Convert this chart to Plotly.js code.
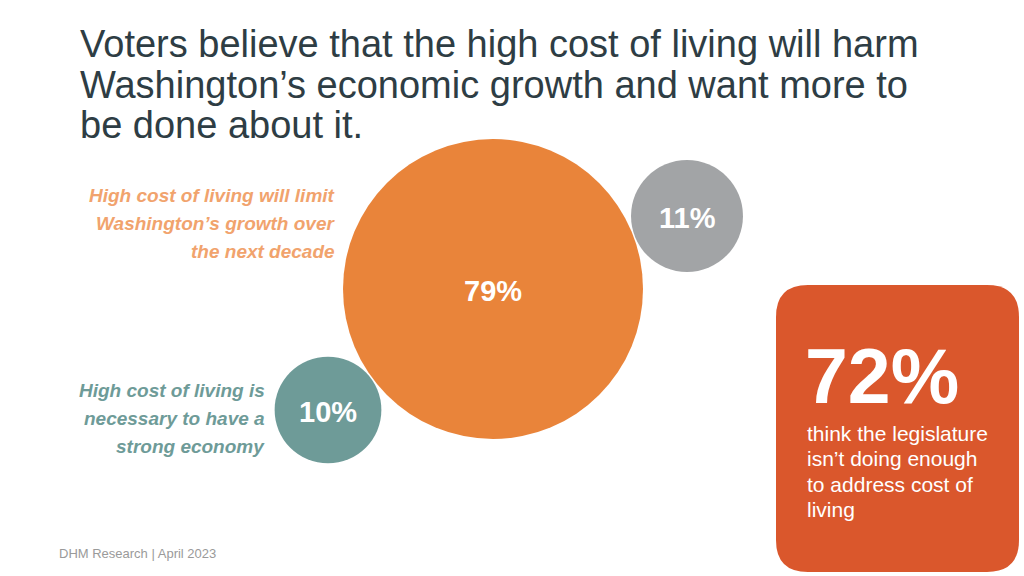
<!DOCTYPE html>
<html>
<head>
<meta charset="utf-8">
<script src="https://cdn.plot.ly/plotly-3.0.1.min.js"></script>
<style>
  html, body { margin: 0; padding: 0; background: #ffffff; }
  #chart { width: 1024px; height: 576px; }
</style>
</head>
<body>
<div id="chart"></div>
<script>
// ---------- DATA ----------
const titleLines = [
  "Voters believe that the high cost of living will harm",
  "Washington’s economic growth and want more to",
  "be done about it."
];
const categories = [
  "High cost of living will limit Washington’s growth over the next decade",
  "Other / unsure",
  "High cost of living is necessary to have a strong economy"
];
const values = [79, 11, 10];
const valueLabels = ["79%", "11%", "10%"];
const limitLabelLines = ["High cost of living will limit", "Washington’s growth over", "the next decade"];
const necessaryLabelLines = ["High cost of living is", "necessary to have a", "strong economy"];
const legislatureValue = "72%";
const legislatureLines = ["think the legislature", "isn’t doing enough", "to address cost of", "living"];
const sourceText = "DHM Research | April 2023";

// ---------- LAYOUT (positions in axis units: axes span the page) ----------
const bubbleCenters = { x: [493, 687, 328], y: [289, 216, 410] };
const bubbleColors = ["#E9843A", "#A2A4A6", "#6E9B98"];
const FONT = "Liberation Sans, Arial, Helvetica, sans-serif";

const trace = {
  type: "scatter",
  mode: "markers",
  x: bubbleCenters.x,
  y: bubbleCenters.y,
  text: categories,
  marker: {
    size: values,
    sizemode: "area",
    sizeref: 79 / (2 * 150 * 150),
    color: bubbleColors,
    opacity: 1,
    line: { width: 0 }
  },
  cliponaxis: false,
  hoverinfo: "skip",
  showlegend: false
};

function ann(text, x, y, size, color, opts) {
  return Object.assign({
    text: text, x: x, y: y, xref: "x", yref: "y",
    showarrow: false, xanchor: "left", yanchor: "middle",
    font: { family: FONT, size: size, color: color },
    borderpad: 0
  }, opts || {});
}
function mid(baseline, size) { return baseline - 0.3465 * size; }

const annotations = [];
const titleBase = [57, 98, 138];
titleLines.forEach((t, i) => annotations.push(ann(t, 79, mid(titleBase[i], 38), 38, "#2E3D44")));

// value labels inside bubbles
valueLabels.forEach((t, i) => annotations.push(ann(t, bubbleCenters.x[i], bubbleCenters.y[i], 29, "#ffffff",
  { xanchor: "center", yshift: -2, font: { family: FONT, size: 29, color: "#ffffff", weight: "bold" } })));

const limitBase = [202, 230, 258];
limitLabelLines.forEach((t, i) => annotations.push(ann(t, 336, mid(limitBase[i], 19), 19, "#F1A36D",
  { xanchor: "right", align: "right", font: { family: FONT, size: 19, color: "#F1A36D", weight: "bold", style: "italic" } })));

const necBase = [397, 425, 453];
necessaryLabelLines.forEach((t, i) => annotations.push(ann(t, 266, mid(necBase[i], 19), 19, "#6E9B98",
  { xanchor: "right", align: "right", font: { family: FONT, size: 19, color: "#6E9B98", weight: "bold", style: "italic" } })));

annotations.push(ann(legislatureValue, 804, mid(403, 77), 77, "#ffffff",
  { font: { family: FONT, size: 77, color: "#ffffff", weight: "bold" } }));
const legBase = [441, 466, 492, 517];
legislatureLines.forEach((t, i) => annotations.push(ann(t, 806, mid(legBase[i], 21), 21, "#ffffff")));

annotations.push(ann(sourceText, 58, mid(558, 13), 13, "#9A9A9A"));

// rounded box
const bx0 = 776, bx1 = 1019, by0 = 285, by1 = 572, r = 32;
const boxPath = `M ${bx0 + r} ${by0} L ${bx1 - r} ${by0} Q ${bx1} ${by0} ${bx1} ${by0 + r} ` +
  `L ${bx1} ${by1 - r} Q ${bx1} ${by1} ${bx1 - r} ${by1} L ${bx0 + r} ${by1} ` +
  `Q ${bx0} ${by1} ${bx0} ${by1 - r} L ${bx0} ${by0 + r} Q ${bx0} ${by0} ${bx0 + r} ${by0} Z`;

const layout = {
  width: 1024, height: 576,
  margin: { l: 0, r: 0, t: 0, b: 0, pad: 0 },
  paper_bgcolor: "#ffffff", plot_bgcolor: "#ffffff",
  xaxis: { range: [0, 1024], visible: false, fixedrange: true },
  yaxis: { range: [576, 0], visible: false, fixedrange: true },
  shapes: [{
    type: "path", xref: "x", yref: "y", path: boxPath,
    fillcolor: "#DA572C", line: { width: 0 }, layer: "below"
  }],
  annotations: annotations,
  hovermode: false,
  showlegend: false
};

Plotly.newPlot("chart", [trace], layout, { staticPlot: true, displayModeBar: false });
</script>
</body>
</html>
